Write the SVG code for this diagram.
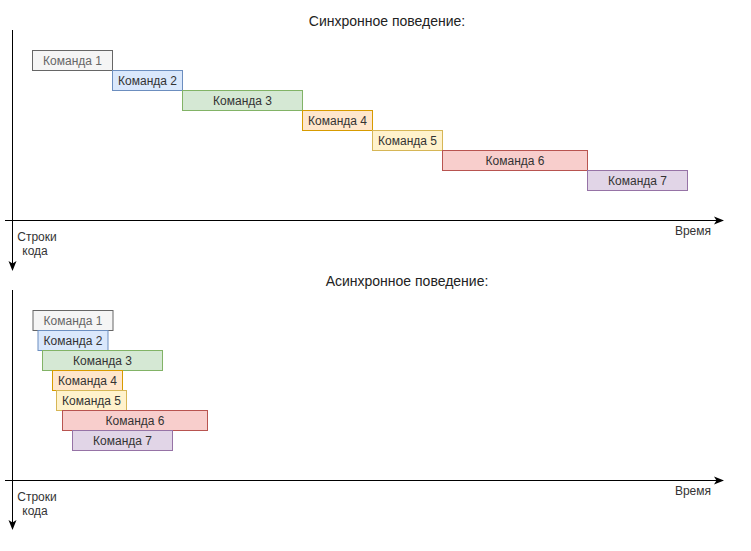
<svg xmlns="http://www.w3.org/2000/svg" width="751" height="551" viewBox="0 0 751 551">
<defs>
<marker id="arr" viewBox="0 0 10 10" refX="9" refY="5" markerWidth="10" markerHeight="10" markerUnits="userSpaceOnUse" orient="auto">
<path d="M0,1 L10,5 L0,9 L2.5,5 Z" fill="#000"/>
</marker>
</defs>
<style>
text{font-family:"Liberation Sans",Arial,sans-serif;font-size:12px;fill:#333;}
.t{font-size:14px;fill:#222;text-anchor:middle;}
.l{text-anchor:middle;}
.b text{text-anchor:middle;}
.ax{stroke:#000;stroke-width:1;fill:none;}
.gray rect{fill:#f5f5f5;stroke:#666666;}
.gray text{fill:#666;}
.blue rect{fill:#dae8fc;stroke:#6c8ebf;}
.green rect{fill:#d5e8d4;stroke:#82b366;}
.orange rect{fill:#ffe6cc;stroke:#d79b00;}
.yellow rect{fill:#fff2cc;stroke:#d6b656;}
.red rect{fill:#f8cecc;stroke:#b85450;}
.purple rect{fill:#e1d5e7;stroke:#9673a6;}
</style>
<text class="t" x="387" y="26">Синхронное поведение:</text>
<text class="t" x="407" y="286">Асинхронное поведение:</text>
<g id="connectors">
<line class="ax" x1="12.5" y1="30" x2="12.5" y2="270" marker-end="url(#arr)"/>
<line class="ax" x1="5" y1="220.5" x2="723" y2="220.5" marker-end="url(#arr)"/>
<line class="ax" x1="12.5" y1="290" x2="12.5" y2="529" marker-end="url(#arr)"/>
<line class="ax" x1="5" y1="480.5" x2="723" y2="480.5" marker-end="url(#arr)"/>
</g>
<text class="l" x="693" y="235">Время</text>
<text class="l" x="37" y="241">Строки</text>
<text class="l" x="35" y="255">кода</text>
<text class="l" x="693" y="495">Время</text>
<text class="l" x="37" y="501">Строки</text>
<text class="l" x="35" y="515">кода</text>
<g id="s1" class="b gray"><rect x="32.5" y="50.5" width="80" height="20"/><text x="72.5" y="65">Команда 1</text></g>
<g id="s2" class="b blue"><rect x="112.5" y="70.5" width="70" height="20"/><text x="147.5" y="85">Команда 2</text></g>
<g id="s3" class="b green"><rect x="182.5" y="90.5" width="120" height="20"/><text x="242.5" y="105">Команда 3</text></g>
<g id="s4" class="b orange"><rect x="302.5" y="110.5" width="70" height="20"/><text x="337.5" y="125">Команда 4</text></g>
<g id="s5" class="b yellow"><rect x="372.5" y="130.5" width="70" height="20"/><text x="407.5" y="145">Команда 5</text></g>
<g id="s6" class="b red"><rect x="442.5" y="150.5" width="145" height="20"/><text x="515" y="165">Команда 6</text></g>
<g id="s7" class="b purple"><rect x="587.5" y="170.5" width="100" height="20"/><text x="637.5" y="185">Команда 7</text></g>
<g id="a1" class="b gray"><rect x="33" y="310.5" width="80" height="20"/><text x="73" y="325">Команда 1</text></g>
<g id="a2" class="b blue"><rect x="38" y="330.5" width="70" height="20"/><text x="73" y="345">Команда 2</text></g>
<g id="a3" class="b green"><rect x="42.5" y="350.5" width="120" height="20"/><text x="102.5" y="365">Команда 3</text></g>
<g id="a4" class="b orange"><rect x="52.5" y="370.5" width="70" height="20"/><text x="87.5" y="385">Команда 4</text></g>
<g id="a5" class="b yellow"><rect x="56.5" y="390.5" width="70" height="20"/><text x="91.5" y="405">Команда 5</text></g>
<g id="a6" class="b red"><rect x="62.5" y="410.5" width="145" height="20"/><text x="135" y="425">Команда 6</text></g>
<g id="a7" class="b purple"><rect x="72.5" y="430.5" width="100" height="20"/><text x="122.5" y="445">Команда 7</text></g>
</svg>
